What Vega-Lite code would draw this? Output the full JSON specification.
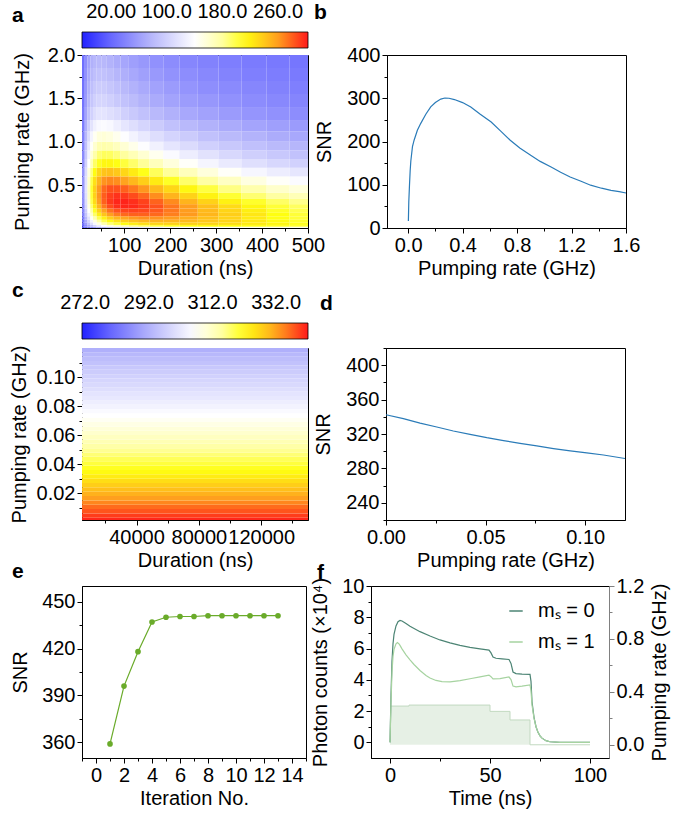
{
"$schema": "https://vega.github.io/schema/vega-lite/v6.json",
"background": "white",
"padding": {"left": 8, "top": 1, "right": 0, "bottom": 0},
"autosize": {"type": "pad"},
"spacing": -11,
"resolve": {"scale": {"color": "independent"}, "legend": {"color": "independent"}},
"config": {
  "font": "Liberation Sans",
  "view": {"stroke": "black", "strokeWidth": 1},
  "axis": {"labelFont": "Liberation Sans", "labelFontSize": 20, "labelColor": "black", "titleFont": "Liberation Sans", "titleFontSize": 20, "titleFontWeight": "normal", "titleColor": "black", "domainColor": "black", "domainWidth": 1, "tickColor": "black", "tickWidth": 1, "grid": false, "labelPadding": 2, "labelFlush": false, "labelOverlap": false, "labelBound": false},
  "axisX": {"titlePadding": 3},
  "axisY": {"titlePadding": 9},
  "legend": {"labelFont": "Liberation Sans", "labelColor": "black"},
  "title": {"font": "Liberation Sans", "fontSize": 21, "fontWeight": "bold", "color": "black", "anchor": "start", "frame": "group"}
},
"datasets": {
  "heatA": [
    {"r0":0.005,"r1":0.02,"c1":12,"c2":26,"c3":39,"c4":50,"c5":60,"c6":71,"c7":81,"c8":90,"c9":98,"c10":105,"c11":112,"c12":119,"c13":126,"c14":132,"c15":137,"c16":142,"c17":145,"c18":147,"c19":148,"c20":149},
    {"r0":0.02,"r1":0.04,"c1":21,"c2":47,"c3":69,"c4":88,"c5":106,"c6":124,"c7":140,"c8":154,"c9":165,"c10":176,"c11":186,"c12":193,"c13":201,"c14":207,"c15":211,"c16":213,"c17":212,"c18":210,"c19":207,"c20":204},
    {"r0":0.04,"r1":0.07,"c1":27,"c2":59,"c3":88,"c4":112,"c5":133,"c6":154,"c7":173,"c8":189,"c9":202,"c10":213,"c11":221,"c12":228,"c13":233,"c14":235,"c15":235,"c16":233,"c17":229,"c18":222,"c19":216,"c20":209},
    {"r0":0.07,"r1":0.1,"c1":31,"c2":69,"c3":102,"c4":129,"c5":154,"c6":177,"c7":197,"c8":214,"c9":226,"c10":236,"c11":243,"c12":248,"c13":250,"c14":249,"c15":246,"c16":240,"c17":233,"c18":223,"c19":214,"c20":206},
    {"r0":0.1,"r1":0.14,"c1":36,"c2":79,"c3":116,"c4":146,"c5":173,"c6":198,"c7":219,"c8":236,"c9":248,"c10":256,"c11":261,"c12":264,"c13":263,"c14":260,"c15":253,"c16":244,"c17":234,"c18":222,"c19":211,"c20":203},
    {"r0":0.14,"r1":0.18,"c1":41,"c2":90,"c3":130,"c4":163,"c5":193,"c6":220,"c7":242,"c8":259,"c9":270,"c10":277,"c11":280,"c12":280,"c13":277,"c14":270,"c15":261,"c16":249,"c17":237,"c18":224,"c19":212,"c20":203},
    {"r0":0.18,"r1":0.23,"c1":45,"c2":97,"c3":141,"c4":177,"c5":208,"c6":236,"c7":258,"c8":274,"c9":284,"c10":289,"c11":290,"c12":288,"c13":282,"c14":272,"c15":260,"c16":247,"c17":233,"c18":220,"c19":207,"c20":198},
    {"r0":0.23,"r1":0.28,"c1":48,"c2":105,"c3":152,"c4":189,"c5":221,"c6":250,"c7":272,"c8":287,"c9":296,"c10":299,"c11":298,"c12":293,"c13":285,"c14":273,"c15":260,"c16":245,"c17":230,"c18":216,"c19":203,"c20":194},
    {"r0":0.28,"r1":0.34,"c1":51,"c2":110,"c3":160,"c4":198,"c5":230,"c6":259,"c7":280,"c8":293,"c9":299,"c10":300,"c11":296,"c12":290,"c13":279,"c14":266,"c15":250,"c16":235,"c17":219,"c18":206,"c19":193,"c20":184},
    {"r0":0.34,"r1":0.41,"c1":53,"c2":114,"c3":164,"c4":202,"c5":235,"c6":262,"c7":281,"c8":291,"c9":295,"c10":293,"c11":287,"c12":278,"c13":265,"c14":250,"c15":234,"c16":218,"c17":204,"c18":190,"c19":179,"c20":170},
    {"r0":0.41,"r1":0.5,"c1":54,"c2":116,"c3":166,"c4":204,"c5":235,"c6":260,"c7":277,"c8":285,"c9":285,"c10":280,"c11":272,"c12":262,"c13":247,"c14":232,"c15":216,"c16":201,"c17":186,"c18":174,"c19":162,"c20":155},
    {"r0":0.5,"r1":0.6,"c1":54,"c2":114,"c3":162,"c4":198,"c5":227,"c6":249,"c7":263,"c8":267,"c9":265,"c10":258,"c11":248,"c12":237,"c13":222,"c14":207,"c15":192,"c16":178,"c17":165,"c18":153,"c19":143,"c20":137},
    {"r0":0.6,"r1":0.7,"c1":52,"c2":109,"c3":154,"c4":187,"c5":213,"c6":232,"c7":242,"c8":244,"c9":240,"c10":232,"c11":222,"c12":210,"c13":195,"c14":181,"c15":168,"c16":155,"c17":143,"c18":133,"c19":125,"c20":119},
    {"r0":0.7,"r1":0.8,"c1":48,"c2":100,"c3":141,"c4":170,"c5":193,"c6":208,"c7":216,"c8":216,"c9":211,"c10":202,"c11":192,"c12":181,"c13":168,"c14":155,"c15":143,"c16":132,"c17":122,"c18":113,"c19":106,"c20":101},
    {"r0":0.8,"r1":0.9,"c1":45,"c2":94,"c3":131,"c4":157,"c5":176,"c6":190,"c7":195,"c8":194,"c9":188,"c10":180,"c11":170,"c12":159,"c13":147,"c14":136,"c15":125,"c16":115,"c17":107,"c18":99,"c19":93,"c20":88},
    {"r0":0.9,"r1":1.0,"c1":42,"c2":86,"c3":120,"c4":143,"c5":160,"c6":172,"c7":175,"c8":173,"c9":167,"c10":158,"c11":149,"c12":139,"c13":128,"c14":118,"c15":109,"c16":100,"c17":93,"c18":86,"c19":81,"c20":77},
    {"r0":1.0,"r1":1.12,"c1":38,"c2":79,"c3":110,"c4":131,"c5":146,"c6":155,"c7":157,"c8":154,"c9":148,"c10":139,"c11":130,"c12":121,"c13":112,"c14":103,"c15":95,"c16":87,"c17":81,"c18":75,"c19":70,"c20":67},
    {"r0":1.12,"r1":1.25,"c1":35,"c2":71,"c3":98,"c4":116,"c5":128,"c6":135,"c7":137,"c8":134,"c9":127,"c10":119,"c11":112,"c12":104,"c13":95,"c14":87,"c15":80,"c16":74,"c17":69,"c18":64,"c19":60,"c20":57},
    {"r0":1.25,"r1":1.4,"c1":31,"c2":63,"c3":86,"c4":101,"c5":111,"c6":117,"c7":117,"c8":113,"c9":108,"c10":100,"c11":94,"c12":87,"c13":80,"c14":73,"c15":67,"c16":62,"c17":57,"c18":53,"c19":50,"c20":47},
    {"r0":1.4,"r1":1.55,"c1":28,"c2":57,"c3":78,"c4":91,"c5":100,"c6":104,"c7":104,"c8":100,"c9":94,"c10":88,"c11":82,"c12":75,"c13":69,"c14":63,"c15":58,"c16":54,"c17":50,"c18":46,"c19":43,"c20":41},
    {"r0":1.55,"r1":1.7,"c1":27,"c2":54,"c3":73,"c4":85,"c5":93,"c6":96,"c7":95,"c8":91,"c9":86,"c10":80,"c11":74,"c12":68,"c13":62,"c14":57,"c15":52,"c16":48,"c17":45,"c18":42,"c19":39,"c20":37},
    {"r0":1.7,"r1":1.85,"c1":25,"c2":51,"c3":68,"c4":79,"c5":85,"c6":88,"c7":87,"c8":83,"c9":77,"c10":72,"c11":67,"c12":61,"c13":56,"c14":51,"c15":47,"c16":43,"c17":40,"c18":37,"c19":35,"c20":33},
    {"r0":1.85,"r1":2.0,"c1":24,"c2":47,"c3":63,"c4":73,"c5":78,"c6":80,"c7":79,"c8":75,"c9":70,"c10":65,"c11":60,"c12":55,"c13":50,"c14":46,"c15":42,"c16":39,"c17":36,"c18":34,"c19":32,"c20":30}
  ],
  "colsA": [
    {"col":"c1","t0":8,"t1":14},{"col":"c2","t0":14,"t1":20},{"col":"c3","t0":20,"t1":26},{"col":"c4","t0":26,"t1":32},
    {"col":"c5","t0":32,"t1":40},{"col":"c6","t0":40,"t1":50},{"col":"c7","t0":50,"t1":62},{"col":"c8","t0":62,"t1":76},
    {"col":"c9","t0":76,"t1":92},{"col":"c10","t0":92,"t1":110},{"col":"c11","t0":110,"t1":130},{"col":"c12","t0":130,"t1":155},
    {"col":"c13","t0":155,"t1":185},{"col":"c14","t0":185,"t1":220},{"col":"c15","t0":220,"t1":260},{"col":"c16","t0":260,"t1":305},
    {"col":"c17","t0":305,"t1":355},{"col":"c18","t0":355,"t1":410},{"col":"c19","t0":410,"t1":460},{"col":"c20","t0":460,"t1":500}
  ],
  "heatC": [
    {"r0":0,"r1":0.003,"d0":5000,"d1":150000,"snr":341.1},
    {"r0":0.003,"r1":0.006,"d0":5000,"d1":150000,"snr":339.6},
    {"r0":0.006,"r1":0.009,"d0":5000,"d1":150000,"snr":337.9},
    {"r0":0.009,"r1":0.012,"d0":5000,"d1":150000,"snr":336.2},
    {"r0":0.012,"r1":0.015,"d0":5000,"d1":150000,"snr":334.3},
    {"r0":0.015,"r1":0.018,"d0":5000,"d1":150000,"snr":332.5},
    {"r0":0.018,"r1":0.021,"d0":5000,"d1":150000,"snr":330.8},
    {"r0":0.021,"r1":0.024,"d0":5000,"d1":150000,"snr":329.2},
    {"r0":0.024,"r1":0.027,"d0":5000,"d1":150000,"snr":327.6},
    {"r0":0.027,"r1":0.03,"d0":5000,"d1":150000,"snr":325.9},
    {"r0":0.03,"r1":0.033,"d0":5000,"d1":150000,"snr":324.2},
    {"r0":0.033,"r1":0.036,"d0":5000,"d1":150000,"snr":322.7},
    {"r0":0.036,"r1":0.039,"d0":5000,"d1":150000,"snr":321.3},
    {"r0":0.039,"r1":0.042,"d0":5000,"d1":150000,"snr":319.9},
    {"r0":0.042,"r1":0.045,"d0":5000,"d1":150000,"snr":318.5},
    {"r0":0.045,"r1":0.048,"d0":5000,"d1":150000,"snr":317.1},
    {"r0":0.048,"r1":0.051,"d0":5000,"d1":150000,"snr":315.7},
    {"r0":0.051,"r1":0.054,"d0":5000,"d1":150000,"snr":314.4},
    {"r0":0.054,"r1":0.057,"d0":5000,"d1":150000,"snr":313.2},
    {"r0":0.057,"r1":0.06,"d0":5000,"d1":150000,"snr":312.1},
    {"r0":0.06,"r1":0.063,"d0":5000,"d1":150000,"snr":311.0},
    {"r0":0.063,"r1":0.066,"d0":5000,"d1":150000,"snr":309.9},
    {"r0":0.066,"r1":0.069,"d0":5000,"d1":150000,"snr":308.8},
    {"r0":0.069,"r1":0.072,"d0":5000,"d1":150000,"snr":307.6},
    {"r0":0.072,"r1":0.075,"d0":5000,"d1":150000,"snr":306.5},
    {"r0":0.075,"r1":0.078,"d0":5000,"d1":150000,"snr":305.5},
    {"r0":0.078,"r1":0.081,"d0":5000,"d1":150000,"snr":304.3},
    {"r0":0.081,"r1":0.084,"d0":5000,"d1":150000,"snr":303.2},
    {"r0":0.084,"r1":0.087,"d0":5000,"d1":150000,"snr":302.2},
    {"r0":0.087,"r1":0.09,"d0":5000,"d1":150000,"snr":301.3},
    {"r0":0.09,"r1":0.093,"d0":5000,"d1":150000,"snr":300.3},
    {"r0":0.093,"r1":0.096,"d0":5000,"d1":150000,"snr":299.4},
    {"r0":0.096,"r1":0.099,"d0":5000,"d1":150000,"snr":298.6},
    {"r0":0.099,"r1":0.102,"d0":5000,"d1":150000,"snr":297.8},
    {"r0":0.102,"r1":0.105,"d0":5000,"d1":150000,"snr":296.9},
    {"r0":0.105,"r1":0.108,"d0":5000,"d1":150000,"snr":296.0},
    {"r0":0.108,"r1":0.111,"d0":5000,"d1":150000,"snr":295.0},
    {"r0":0.111,"r1":0.114,"d0":5000,"d1":150000,"snr":294.0},
    {"r0":0.114,"r1":0.117,"d0":5000,"d1":150000,"snr":293.0},
    {"r0":0.117,"r1":0.12,"d0":5000,"d1":150000,"snr":291.7}
  ],
  "snrB": [
    {"rate":0.002,"snr":16},{"rate":0.005,"snr":60},{"rate":0.01,"snr":98},{"rate":0.015,"snr":132},{"rate":0.02,"snr":155},
    {"rate":0.032,"snr":188},{"rate":0.044,"snr":203},{"rate":0.068,"snr":226},{"rate":0.093,"snr":242},{"rate":0.13,"snr":263},
    {"rate":0.166,"snr":280},{"rate":0.2,"snr":290},{"rate":0.24,"snr":298},{"rate":0.27,"snr":300.5},{"rate":0.3,"snr":300},
    {"rate":0.34,"snr":297},{"rate":0.4,"snr":290},{"rate":0.46,"snr":280},{"rate":0.53,"snr":263},{"rate":0.61,"snr":245},
    {"rate":0.68,"snr":224},{"rate":0.75,"snr":203},{"rate":0.82,"snr":185},{"rate":0.9,"snr":168},{"rate":0.97,"snr":154},
    {"rate":1.05,"snr":141},{"rate":1.12,"snr":129},{"rate":1.19,"snr":118},{"rate":1.27,"snr":108},{"rate":1.34,"snr":99},
    {"rate":1.42,"snr":92},{"rate":1.49,"snr":87},{"rate":1.55,"snr":84},{"rate":1.6,"snr":81}
  ],
  "snrD": [
    {"rate":0,"snr":342.4},{"rate":0.0087,"snr":337.8},{"rate":0.0171,"snr":332.7},{"rate":0.0255,"snr":328.1},
    {"rate":0.0338,"snr":323.5},{"rate":0.0422,"snr":319.6},{"rate":0.0506,"snr":315.7},{"rate":0.059,"snr":312.3},
    {"rate":0.0673,"snr":309.2},{"rate":0.0757,"snr":306.1},{"rate":0.0841,"snr":303.0},{"rate":0.0925,"snr":300.3},
    {"rate":0.1008,"snr":298.0},{"rate":0.1092,"snr":295.6},{"rate":0.12,"snr":291.5}
  ],
  "iter": [
    {"n":1,"snr":359},{"n":2,"snr":396},{"n":3,"snr":418},{"n":4,"snr":437},{"n":5,"snr":440},{"n":6,"snr":440.5},
    {"n":7,"snr":440.5},{"n":8,"snr":441},{"n":9,"snr":441},{"n":10,"snr":441},{"n":11,"snr":441},{"n":12,"snr":441},{"n":13,"snr":441}
  ],
  "pump": [
    {"t":0,"rate":0.2925},{"t":9.5,"rate":0.3},{"t":50,"rate":0.2525},{"t":60,"rate":0.1875},{"t":70,"rate":0},{"t":100,"rate":0}
  ],
  "counts": [
    {"t":0,"state":"mₛ = 0","v":0},{"t":0.5,"state":"mₛ = 0","v":3.0},{"t":1,"state":"mₛ = 0","v":5.2},{"t":1.5,"state":"mₛ = 0","v":6.3},
    {"t":2,"state":"mₛ = 0","v":6.9},{"t":3,"state":"mₛ = 0","v":7.45},{"t":4,"state":"mₛ = 0","v":7.72},{"t":5,"state":"mₛ = 0","v":7.8},
    {"t":6,"state":"mₛ = 0","v":7.76},{"t":8,"state":"mₛ = 0","v":7.6},{"t":10,"state":"mₛ = 0","v":7.42},{"t":15,"state":"mₛ = 0","v":7.08},
    {"t":20,"state":"mₛ = 0","v":6.8},{"t":25,"state":"mₛ = 0","v":6.55},{"t":30,"state":"mₛ = 0","v":6.36},{"t":35,"state":"mₛ = 0","v":6.2},
    {"t":40,"state":"mₛ = 0","v":6.08},{"t":45,"state":"mₛ = 0","v":5.98},{"t":49.5,"state":"mₛ = 0","v":5.9},{"t":50.5,"state":"mₛ = 0","v":5.72},
    {"t":51.5,"state":"mₛ = 0","v":5.46},{"t":53,"state":"mₛ = 0","v":5.38},{"t":56,"state":"mₛ = 0","v":5.34},{"t":59.5,"state":"mₛ = 0","v":5.3},
    {"t":60.5,"state":"mₛ = 0","v":5.05},{"t":61.5,"state":"mₛ = 0","v":4.5},{"t":63,"state":"mₛ = 0","v":4.4},{"t":66,"state":"mₛ = 0","v":4.37},
    {"t":70,"state":"mₛ = 0","v":4.35},{"t":70.5,"state":"mₛ = 0","v":3.9},{"t":71,"state":"mₛ = 0","v":2.6},{"t":72,"state":"mₛ = 0","v":1.6},
    {"t":73,"state":"mₛ = 0","v":1.0},{"t":74,"state":"mₛ = 0","v":0.64},{"t":75,"state":"mₛ = 0","v":0.42},{"t":76,"state":"mₛ = 0","v":0.27},
    {"t":78,"state":"mₛ = 0","v":0.11},{"t":80,"state":"mₛ = 0","v":0.04},{"t":85,"state":"mₛ = 0","v":0},{"t":100,"state":"mₛ = 0","v":0},
    {"t":0,"state":"mₛ = 1","v":0},{"t":0.5,"state":"mₛ = 1","v":2.6},{"t":1,"state":"mₛ = 1","v":4.5},{"t":1.5,"state":"mₛ = 1","v":5.5},
    {"t":2,"state":"mₛ = 1","v":5.95},{"t":3,"state":"mₛ = 1","v":6.3},{"t":3.7,"state":"mₛ = 1","v":6.38},{"t":4.5,"state":"mₛ = 1","v":6.3},
    {"t":5,"state":"mₛ = 1","v":6.2},{"t":6,"state":"mₛ = 1","v":5.98},{"t":8,"state":"mₛ = 1","v":5.6},{"t":10,"state":"mₛ = 1","v":5.28},
    {"t":12,"state":"mₛ = 1","v":4.98},{"t":15,"state":"mₛ = 1","v":4.6},{"t":18,"state":"mₛ = 1","v":4.28},{"t":20,"state":"mₛ = 1","v":4.12},
    {"t":23,"state":"mₛ = 1","v":3.96},{"t":26,"state":"mₛ = 1","v":3.88},{"t":30,"state":"mₛ = 1","v":3.87},{"t":35,"state":"mₛ = 1","v":3.95},
    {"t":40,"state":"mₛ = 1","v":4.07},{"t":45,"state":"mₛ = 1","v":4.19},{"t":49.5,"state":"mₛ = 1","v":4.3},{"t":50.5,"state":"mₛ = 1","v":4.2},
    {"t":51.5,"state":"mₛ = 1","v":4.06},{"t":55,"state":"mₛ = 1","v":4.08},{"t":59.5,"state":"mₛ = 1","v":4.18},{"t":60.5,"state":"mₛ = 1","v":4.02},
    {"t":61.5,"state":"mₛ = 1","v":3.6},{"t":63,"state":"mₛ = 1","v":3.55},{"t":66,"state":"mₛ = 1","v":3.6},{"t":70,"state":"mₛ = 1","v":3.68},
    {"t":70.5,"state":"mₛ = 1","v":3.3},{"t":71,"state":"mₛ = 1","v":2.4},{"t":72,"state":"mₛ = 1","v":1.55},{"t":73,"state":"mₛ = 1","v":1.0},
    {"t":74,"state":"mₛ = 1","v":0.64},{"t":75,"state":"mₛ = 1","v":0.42},{"t":76,"state":"mₛ = 1","v":0.27},{"t":78,"state":"mₛ = 1","v":0.11},
    {"t":80,"state":"mₛ = 1","v":0.04},{"t":85,"state":"mₛ = 1","v":0},{"t":100,"state":"mₛ = 1","v":0}
  ],
  "spacer": [{"s": 0}]
},
"vconcat": [
  {"hconcat": [
    {
      "width": 226, "height": 173,
      "title": {"text": "a", "dx": -70, "dy": -2},
      "data": {"name": "heatA"},
      "transform": [
        {"fold": ["c1","c2","c3","c4","c5","c6","c7","c8","c9","c10","c11","c12","c13","c14","c15","c16","c17","c18","c19","c20"], "as": ["col", "snr"]},
        {"lookup": "col", "from": {"data": {"name": "colsA"}, "key": "col", "fields": ["t0", "t1"]}}
      ],
      "mark": {"type": "rect", "clip": true},
      "encoding": {
        "x": {"field": "t0", "type": "quantitative", "scale": {"domain": [8, 500], "nice": false, "zero": false},
              "axis": {"title": "Duration (ns)", "values": [50,100,150,200,250,300,350,400,450,500],
                       "labelExpr": "datum.value % 100 == 0 ? datum.label : ''",
                       "tickSize": {"condition": {"test": "datum.value % 100 != 0", "value": 3}, "value": 5}}},
        "x2": {"field": "t1"},
        "y": {"field": "r0", "type": "quantitative", "scale": {"domain": [0.005, 2], "nice": false, "zero": false},
              "axis": {"title": "Pumping rate (GHz)", "titlePadding": 15, "values": [0.25,0.5,0.75,1,1.25,1.5,1.75,2], "format": ".1f",
                       "labelExpr": "abs(datum.value*2 - round(datum.value*2)) < 0.001 ? datum.label : ''",
                       "tickSize": {"condition": {"test": "abs(datum.value*2 - round(datum.value*2)) > 0.001", "value": 3}, "value": 5}}},
        "y2": {"field": "r1"},
        "color": {"field": "snr", "type": "quantitative",
                  "scale": {"type": "linear", "domain": [-22,17,75.5,140.5,179.5,212,257.5,303], "range": ["#2222ff","#6464ff","#b4b4fb","#ffffff","#ffffa0","#ffff10","#ffa51e","#ff1a1a"], "interpolate": "rgb", "clamp": true},
                  "legend": {"type": "gradient", "orient": "none", "legendX": 0, "legendY": -23, "direction": "horizontal", "title": null, "gradientLength": 226, "gradientThickness": 16, "values": [20,100,180,260], "format": ".4r", "labelFontSize": 20, "labelOffset": -46, "labelAlign": "center", "padding": 0, "gradientStrokeColor": "black", "gradientStrokeWidth": 0.8}}
      }
    },
    {
      "width": 239, "height": 173,
      "title": {"text": "b", "dx": -73, "dy": -18},
      "data": {"name": "snrB"},
      "mark": {"type": "line", "color": "#2a7bb8", "strokeWidth": 1.2},
      "encoding": {
        "x": {"field": "rate", "type": "quantitative", "scale": {"domain": [-0.155, 1.6], "nice": false, "zero": false},
              "axis": {"title": "Pumping rate (GHz)", "values": [0,0.2,0.4,0.6,0.8,1,1.2,1.4,1.6], "format": ".1f",
                       "labelExpr": "abs(datum.value/0.4 - round(datum.value/0.4)) < 0.001 ? datum.label : ''",
                       "tickSize": {"condition": {"test": "abs(datum.value/0.4 - round(datum.value/0.4)) > 0.001", "value": 3}, "value": 5}}},
        "y": {"field": "snr", "type": "quantitative", "scale": {"domain": [0, 400], "nice": false, "zero": false},
              "axis": {"title": "SNR", "titlePadding": 12, "values": [0,50,100,150,200,250,300,350,400],
                       "labelExpr": "datum.value % 100 == 0 ? datum.label : ''",
                       "tickSize": {"condition": {"test": "datum.value % 100 != 0", "value": 3}, "value": 5}}}
      }
    }
  ], "spacing": -13, "resolve": {"scale": {"color": "independent"}, "legend": {"color": "independent"}}},
  {
    "width": 1, "height": 11, "view": {"stroke": null},
    "data": {"name": "spacer"},
    "mark": {"type": "point", "opacity": 0},
    "encoding": {}
  },
  {"hconcat": [
    {
      "width": 226, "height": 172,
      "title": {"text": "c", "dx": -70, "dy": -18},
      "data": {"name": "heatC"},
      "mark": {"type": "rect", "clip": true},
      "encoding": {
        "x": {"field": "d0", "type": "quantitative", "scale": {"domain": [5000, 150000], "nice": false, "zero": false},
              "axis": {"title": "Duration (ns)", "values": [20000,40000,60000,80000,100000,120000,140000], "format": "d",
                       "labelExpr": "datum.value % 40000 == 0 ? datum.label : ''",
                       "tickSize": {"condition": {"test": "datum.value % 40000 != 0", "value": 3}, "value": 5}}},
        "x2": {"field": "d1"},
        "y": {"field": "r0", "type": "quantitative", "scale": {"domain": [0.0015, 0.12], "nice": false, "zero": false},
              "axis": {"title": "Pumping rate (GHz)", "titlePadding": 7, "values": [0.01,0.02,0.03,0.04,0.05,0.06,0.07,0.08,0.09,0.1,0.11], "format": ".2f",
                       "labelExpr": "abs(datum.value*50 - round(datum.value*50)) < 0.001 ? datum.label : ''",
                       "tickSize": {"condition": {"test": "abs(datum.value*50 - round(datum.value*50)) > 0.001", "value": 3}, "value": 5}}},
        "y2": {"field": "r1"},
        "color": {"field": "snr", "type": "quantitative",
                  "scale": {"type": "linear", "domain": [271,279.5,292.3,306.5,315,322.1,332.1,342], "range": ["#2222ff","#6464ff","#b4b4fb","#ffffff","#ffffa0","#ffff10","#ffa51e","#ff1a1a"], "interpolate": "rgb", "clamp": true},
                  "legend": {"type": "gradient", "orient": "none", "legendX": 0, "legendY": -25, "direction": "horizontal", "title": null, "gradientLength": 226, "gradientThickness": 16, "values": [272,292,312,332], "format": ".4r", "labelFontSize": 20, "labelOffset": -46, "labelAlign": "center", "padding": 0, "gradientStrokeColor": "black", "gradientStrokeWidth": 0.8}}
      }
    },
    {
      "width": 239, "height": 172,
      "title": {"text": "d", "dx": -66, "dy": -20},
      "data": {"name": "snrD"},
      "mark": {"type": "line", "color": "#2a7bb8", "strokeWidth": 1.2},
      "encoding": {
        "x": {"field": "rate", "type": "quantitative", "scale": {"domain": [0, 0.12], "nice": false, "zero": false},
              "axis": {"title": "Pumping rate (GHz)", "values": [0,0.025,0.05,0.075,0.1], "format": ".2f",
                       "labelExpr": "abs(datum.value*20 - round(datum.value*20)) < 0.001 ? datum.label : ''",
                       "tickSize": {"condition": {"test": "abs(datum.value*20 - round(datum.value*20)) > 0.001", "value": 3}, "value": 5}}},
        "y": {"field": "snr", "type": "quantitative", "scale": {"domain": [220, 420], "nice": false, "zero": false},
              "axis": {"title": "SNR", "titlePadding": 12, "values": [220,240,260,280,300,320,340,360,380,400,420],
                       "labelExpr": "(datum.value - 240) % 40 == 0 ? datum.label : ''",
                       "tickSize": {"condition": {"test": "(datum.value - 240) % 40 != 0", "value": 3}, "value": 5}}}
      }
    }
  ], "spacing": 3, "resolve": {"scale": {"color": "independent"}, "legend": {"color": "independent"}}},
  {"hconcat": [
    {
      "width": 224, "height": 172,
      "title": {"text": "e", "dx": -70, "dy": 0},
      "data": {"name": "iter"},
      "encoding": {
        "x": {"field": "n", "type": "quantitative", "scale": {"domain": [-1, 15], "nice": false, "zero": false},
              "axis": {"title": "Iteration No.", "values": [-1,0,1,2,3,4,5,6,7,8,9,10,11,12,13,14,15],
                       "labelExpr": "datum.value % 2 == 0 ? datum.label : ''",
                       "tickSize": {"condition": {"test": "datum.value % 2 != 0", "value": 3}, "value": 5}}},
        "y": {"field": "snr", "type": "quantitative", "scale": {"domain": [350, 460], "nice": false, "zero": false},
              "axis": {"title": "SNR", "titlePadding": 11, "values": [360,375,390,405,420,435,450],
                       "labelExpr": "(datum.value - 360) % 30 == 0 ? datum.label : ''",
                       "tickSize": {"condition": {"test": "(datum.value - 360) % 30 != 0", "value": 3}, "value": 5}}}
      },
      "layer": [
        {"mark": {"type": "line", "color": "#6aab2a", "strokeWidth": 1.2}},
        {"mark": {"type": "point", "filled": true, "color": "#6aab2a", "size": 32, "opacity": 1}}
      ]
    },
    {
      "width": 238, "height": 172,
      "title": {"text": "f", "dx": -54, "dy": 11},
      "layer": [
        {
          "data": {"name": "pump"},
          "mark": {"type": "area", "interpolate": "step-after", "color": "#dce9da", "line": {"color": "#c2d9c0", "strokeWidth": 1}},
          "encoding": {
            "x": {"field": "t", "type": "quantitative", "scale": {"domain": [-9.5, 109.5], "nice": false, "zero": false},
                  "axis": {"title": "Time (ns)", "values": [0,25,50,75,100],
                           "labelExpr": "datum.value % 50 == 0 ? datum.label : ''",
                           "tickSize": {"condition": {"test": "datum.value % 50 != 0", "value": 3}, "value": 5}}},
            "y": {"field": "rate", "type": "quantitative", "scale": {"domain": [-0.1, 1.2], "nice": false, "zero": false},
                  "axis": {"orient": "right", "title": "Pumping rate (GHz)", "titleAngle": -90, "titleBaseline": "top", "titlePadding": 6,
                           "values": [0,0.2,0.4,0.6,0.8,1,1.2], "format": ".1f", "domainColor": "#808080", "tickColor": "#808080",
                           "labelExpr": "abs(datum.value/0.4 - round(datum.value/0.4)) < 0.001 ? datum.label : ''",
                           "tickSize": {"condition": {"test": "abs(datum.value/0.4 - round(datum.value/0.4)) > 0.001", "value": 3}, "value": 5}}},
            "y2": {"datum": 0}
          }
        },
        {
          "data": {"name": "counts"},
          "mark": {"type": "line", "strokeWidth": 1.2},
          "encoding": {
            "x": {"field": "t", "type": "quantitative", "scale": {"domain": [-9.5, 109.5], "nice": false, "zero": false},
                  "axis": {"title": "Time (ns)", "values": [0,25,50,75,100],
                           "labelExpr": "datum.value % 50 == 0 ? datum.label : ''",
                           "tickSize": {"condition": {"test": "datum.value % 50 != 0", "value": 3}, "value": 5}}},
            "y": {"field": "v", "type": "quantitative", "scale": {"domain": [-1, 10], "nice": false, "zero": false},
                  "axis": {"orient": "left", "title": "Photon counts (×10⁴)", "titlePadding": 11, "values": [0,1,2,3,4,5,6,7,8,9,10],
                           "labelExpr": "datum.value % 2 == 0 ? datum.label : ''",
                           "tickSize": {"condition": {"test": "datum.value % 2 != 0", "value": 3}, "value": 5}}},
            "color": {"field": "state", "type": "nominal",
                      "scale": {"domain": ["mₛ = 0", "mₛ = 1"], "range": ["#4c8474", "#a6d3a0"]},
                      "legend": {"orient": "none", "legendX": 135, "legendY": 15, "title": null, "symbolType": "stroke", "symbolSize": 180, "symbolStrokeWidth": 1.5, "labelFontSize": 20, "rowPadding": 11, "padding": 0, "labelOffset": 12}}
          }
        }
      ],
      "resolve": {"scale": {"y": "independent"}}
    }
  ], "spacing": 3, "resolve": {"scale": {"color": "independent"}, "legend": {"color": "independent"}}}
]
}
